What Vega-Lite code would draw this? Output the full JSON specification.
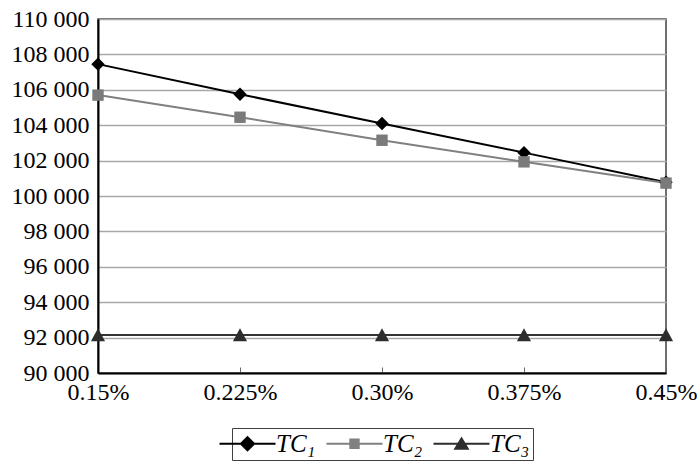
{
  "$schema": "https://vega.github.io/schema/vega-lite/v6.json",
  "width": 568,
  "height": 354,
  "autosize": {"type": "none"},
  "padding": {"left": 98, "top": 19, "right": 34, "bottom": 94},
  "background": "white",
  "config": {
    "view": {"stroke": "#404040", "strokeWidth": 1.5},
    "font": "Liberation Serif",
    "legend": {
      "orient": "none",
      "legendX": 134,
      "legendY": 409,
      "direction": "horizontal",
      "labelFont": "Liberation Serif",
      "labelFontStyle": "italic",
      "labelFontSize": 25,
      "labelColor": "#000000",
      "symbolSize": 256,
      "symbolOpacity": 1,
      "symbolStrokeWidth": 0,
      "strokeColor": "#404040",
      "padding": 3,
      "columnPadding": 10,
      "labelOffset": 16
    }
  },
  "data": {
    "values": [
      {"rate": "0.15%", "series": "TC₁", "cost": 107450},
      {"rate": "0.225%", "series": "TC₁", "cost": 105750},
      {"rate": "0.30%", "series": "TC₁", "cost": 104100},
      {"rate": "0.375%", "series": "TC₁", "cost": 102450},
      {"rate": "0.45%", "series": "TC₁", "cost": 100780},
      {"rate": "0.15%", "series": "TC₂", "cost": 105700},
      {"rate": "0.225%", "series": "TC₂", "cost": 104450},
      {"rate": "0.30%", "series": "TC₂", "cost": 103150},
      {"rate": "0.375%", "series": "TC₂", "cost": 101930},
      {"rate": "0.45%", "series": "TC₂", "cost": 100730},
      {"rate": "0.15%", "series": "TC₃", "cost": 92150},
      {"rate": "0.225%", "series": "TC₃", "cost": 92150},
      {"rate": "0.30%", "series": "TC₃", "cost": 92150},
      {"rate": "0.375%", "series": "TC₃", "cost": 92150},
      {"rate": "0.45%", "series": "TC₃", "cost": 92150}
    ]
  },
  "encoding": {
    "x": {
      "field": "rate",
      "type": "ordinal",
      "sort": ["0.15%", "0.225%", "0.30%", "0.375%", "0.45%"],
      "scale": {"type": "point", "padding": 0},
      "axis": {
        "title": null,
        "labelAngle": 0,
        "labelFont": "Liberation Serif",
        "labelFontSize": 24,
        "labelColor": "#000000",
        "domainColor": "#000000",
        "domainWidth": 2,
        "tickColor": "#666666",
        "tickSize": -6,
        "tickWidth": 1,
        "labelPadding": 13,
        "grid": false
      }
    },
    "y": {
      "field": "cost",
      "type": "quantitative",
      "scale": {"domain": [90000, 110000], "nice": false, "zero": false},
      "axis": {
        "title": null,
        "values": [90000, 92000, 94000, 96000, 98000, 100000, 102000, 104000, 106000, 108000, 110000],
        "labelExpr": "replace(format(datum.value, ','), ',', ' ')",
        "labelFont": "Liberation Serif",
        "labelFontSize": 24,
        "labelColor": "#000000",
        "domainColor": "#000000",
        "domainWidth": 2,
        "ticks": false,
        "labelPadding": 9,
        "grid": true,
        "gridColor": "#a8a8a8",
        "gridWidth": 1.5
      }
    }
  },
  "layer": [
    {
      "transform": [{"filter": "datum.series === 'TC₁'"}],
      "mark": {"type": "line", "strokeWidth": 2, "color": "#000000"},
      "encoding": {}
    },
    {
      "transform": [{"filter": "datum.series === 'TC₂'"}],
      "mark": {"type": "line", "strokeWidth": 2, "color": "#808080"},
      "encoding": {}
    },
    {
      "transform": [{"filter": "datum.series === 'TC₃'"}],
      "mark": {"type": "line", "strokeWidth": 2, "color": "#333333"},
      "encoding": {}
    },
    {
      "transform": [{"filter": "datum.series === 'TC₁'"}],
      "mark": {"type": "point", "shape": "diamond", "filled": true, "size": 180, "color": "#000000", "opacity": 1}
    },
    {
      "transform": [{"filter": "datum.series === 'TC₂'"}],
      "mark": {"type": "point", "shape": "square", "filled": true, "size": 130, "color": "#7a7a7a", "opacity": 1}
    },
    {
      "transform": [{"filter": "datum.series === 'TC₃'"}],
      "mark": {"type": "point", "shape": "M0,-0.95L1,0.9H-1Z", "filled": true, "size": 200, "color": "#2d2d2d", "opacity": 1}
    },
    {
      "mark": {"type": "point", "filled": true, "opacity": 0},
      "encoding": {
        "color": {
          "field": "series",
          "type": "nominal",
          "scale": {"domain": ["TC₁", "TC₂", "TC₃"], "range": ["#000000", "#808080", "#2d2d2d"]},
          "legend": {"title": null}
        },
        "shape": {
          "field": "series",
          "type": "nominal",
          "scale": {
            "domain": ["TC₁", "TC₂", "TC₃"],
            "range": [
              "M-3.5,-0.12H3.5V0.12H-3.5Z M0,-1L1,0L0,1L-1,0Z",
              "M-3.5,-0.12H3.5V0.12H-3.5Z M-0.65,-0.65H0.65V0.65H-0.65Z",
              "M-3.5,-0.12H3.5V0.12H-3.5Z M0,-0.9L1,0.75H-1Z"
            ]
          },
          "legend": {"title": null}
        }
      }
    }
  ]
}
